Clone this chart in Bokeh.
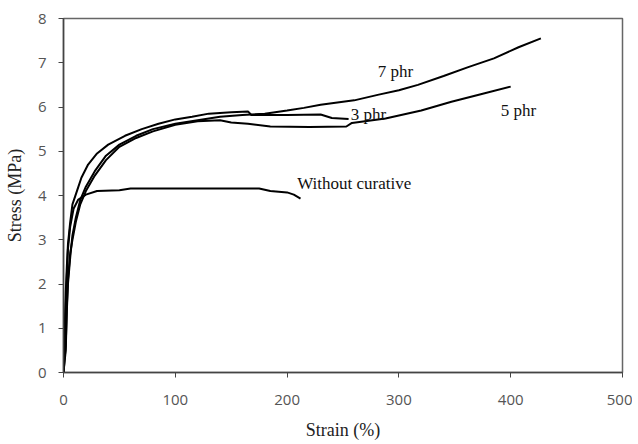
from bokeh.plotting import figure
from bokeh.models import Range1d, FixedTicker, Label
from bokeh.embed import file_html
from bokeh.resources import INLINE

# Data (strain %, stress MPa)
wc_x = [0, 1, 2, 3, 4, 6, 9, 13, 20, 30, 50, 60, 100, 150, 175, 185, 200, 206, 212]
wc_y = [0, 0.6, 1.5, 2.2, 2.8, 3.3, 3.7, 3.9, 4.02, 4.1, 4.12, 4.16, 4.16, 4.16, 4.16, 4.1, 4.07, 4.02, 3.93]

p3_x = [0, 1, 2, 3, 4, 6, 8, 12, 16, 22, 30, 40, 55, 70, 85, 100, 115, 130, 150, 165, 168, 200, 230, 240, 255]
p3_y = [0, 0.9, 1.8, 2.4, 2.9, 3.4, 3.8, 4.1, 4.4, 4.7, 4.95, 5.15, 5.35, 5.5, 5.62, 5.72, 5.78, 5.85, 5.88, 5.9, 5.82, 5.82, 5.83, 5.75, 5.73]

p7_x = [0, 2, 3, 4, 6, 8, 11, 15, 20, 28, 38, 50, 65, 80, 100, 120, 140, 160, 180, 200, 215, 230, 260, 282, 300, 317, 340, 362, 385, 407, 427]
p7_y = [0, 0.5, 1.4, 2.0, 2.6, 3.1, 3.5, 3.9, 4.2, 4.55, 4.9, 5.15, 5.35, 5.5, 5.62, 5.7, 5.78, 5.82, 5.85, 5.92, 5.98, 6.05, 6.15, 6.28, 6.38, 6.5, 6.7, 6.9, 7.1, 7.35, 7.55]

p5_x = [0, 2, 3, 4, 6, 8, 11, 15, 20, 28, 38, 50, 65, 80, 100, 120, 140, 150, 165, 185, 220, 253, 258, 288, 320, 347, 375, 400]
p5_y = [0, 0.6, 1.5, 2.1, 2.7, 3.0, 3.4, 3.8, 4.1, 4.45, 4.8, 5.1, 5.3, 5.45, 5.6, 5.68, 5.7, 5.65, 5.62, 5.56, 5.55, 5.56, 5.64, 5.74, 5.92, 6.12, 6.3, 6.46]

x_ticks = [0, 100, 200, 300, 400, 500]
y_ticks = [0, 1, 2, 3, 4, 5, 6, 7, 8]

labels = [("7 phr", 281, 6.8), ("3 phr", 257, 5.83), ("5 phr", 391, 5.93), ("Without curative", 209, 4.27)]

p = figure(width=632, height=442, output_backend="svg", toolbar_location=None,
           x_range=Range1d(0, 500), y_range=Range1d(0, 8),
           min_border_left=63, min_border_top=18, min_border_right=10, min_border_bottom=70)

for xs, ys in [(wc_x, wc_y), (p3_x, p3_y), (p7_x, p7_y), (p5_x, p5_y)]:
    p.line(xs, ys, line_color="black", line_width=2)

for txt, lx, ly in labels:
    p.add_layout(Label(x=lx, y=ly, text=txt, text_font="Liberation Serif", text_font_size="17px",
                       text_color="#111111", text_baseline="middle", text_align="left"))

p.grid.visible = False
p.outline_line_color = "#666666"
p.outline_line_width = 1.5
p.background_fill_color = "white"
p.border_fill_color = "white"

p.xaxis.ticker = FixedTicker(ticks=x_ticks)
p.yaxis.ticker = FixedTicker(ticks=y_ticks)
for ax in (p.xaxis[0], p.yaxis[0]):
    ax.minor_tick_line_color = None
    ax.major_tick_out = 5
    ax.major_tick_in = 0
    ax.axis_line_color = "#444444"
    ax.axis_line_width = 1.5
    ax.major_tick_line_color = "#444444"
    ax.major_label_text_font = "Open Sans"
    ax.major_label_text_font_size = "15px"
    ax.major_label_text_color = "#555555"
    ax.axis_label_text_font = "Liberation Serif"
    ax.axis_label_text_font_size = "18px"
    ax.axis_label_text_font_style = "normal"
    ax.axis_label_text_color = "#222222"

p.xaxis.axis_label = "Strain (%)"
p.yaxis.axis_label = "Stress (MPa)"
p.xaxis.major_label_standoff = 17
p.xaxis.axis_label_standoff = 12
p.yaxis.major_label_standoff = 12
p.yaxis.axis_label_standoff = 10

open("out.html", "w").write(file_html(p, INLINE))
